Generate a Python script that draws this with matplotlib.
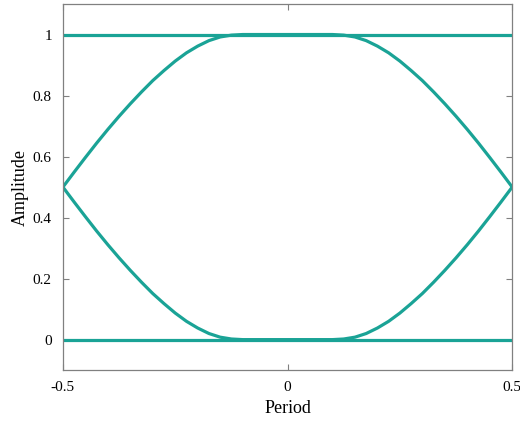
import numpy as np
import matplotlib.pyplot as plt

plt.rcParams['font.family'] = ['Liberation Serif', 'DejaVu Serif']

# sample times across one period
period = [-0.5, -0.475, -0.45, -0.425, -0.4, -0.375, -0.35, -0.325, -0.3, -0.275,
          -0.25, -0.225, -0.2, -0.175, -0.15, -0.125, -0.1, -0.075, -0.05, -0.025,
          0.0, 0.025, 0.05, 0.075, 0.1, 0.125, 0.15, 0.175, 0.2, 0.225,
          0.25, 0.275, 0.3, 0.325, 0.35, 0.375, 0.4, 0.425, 0.45, 0.475, 0.5]

# upper eye trace (0 -> 1 -> 0 transition)
upper = [0.50, 0.549, 0.597, 0.644, 0.689, 0.732, 0.773, 0.812, 0.849, 0.882,
         0.913, 0.940, 0.962, 0.980, 0.992, 0.998, 1.0, 1.0, 1.0, 1.0,
         1.0, 1.0, 1.0, 1.0, 1.0, 0.998, 0.992, 0.980, 0.962, 0.940,
         0.913, 0.882, 0.849, 0.812, 0.773, 0.732, 0.689, 0.644, 0.597, 0.549, 0.50]

# lower eye trace (1 -> 0 -> 1 transition)
lower = [0.50, 0.451, 0.403, 0.356, 0.311, 0.268, 0.227, 0.188, 0.151, 0.118,
         0.087, 0.060, 0.038, 0.020, 0.008, 0.002, 0.0, 0.0, 0.0, 0.0,
         0.0, 0.0, 0.0, 0.0, 0.0, 0.002, 0.008, 0.020, 0.038, 0.060,
         0.087, 0.118, 0.151, 0.188, 0.227, 0.268, 0.311, 0.356, 0.403, 0.451, 0.50]

# constant levels (1 -> 1 and 0 -> 0)
high = [1.0] * len(period)
low = [0.0] * len(period)

color = '#1aa396'
fig = plt.figure(figsize=(5.2, 4.23), dpi=100)
ax = fig.add_axes([0.121, 0.125, 0.864, 0.8655])

for trace in (high, low, upper, lower):
    ax.plot(period, trace, color=color, lw=2.3, solid_capstyle='butt',
            solid_joinstyle='round')

ax.set_xlim(-0.5, 0.5)
ax.set_ylim(-0.1, 1.1)
ax.set_xticks([-0.5, 0, 0.5])
ax.set_xticklabels(['-0.5', '0', '0.5'])
ax.set_yticks([0, 0.2, 0.4, 0.6, 0.8, 1])
ax.set_yticklabels(['0', '0.2', '0.4', '0.6', '0.8', '1'])
ax.tick_params(direction='in', top=True, right=True, length=4, width=0.8,
               color='#808080', labelsize=11, pad=8)
for s in ax.spines.values():
    s.set_color('#808080')
    s.set_linewidth(0.9)

ax.set_xlabel('Period', fontsize=13, labelpad=4)
ax.set_ylabel('Amplitude', fontsize=13, labelpad=3)

fig.savefig('out.png', dpi=100)
